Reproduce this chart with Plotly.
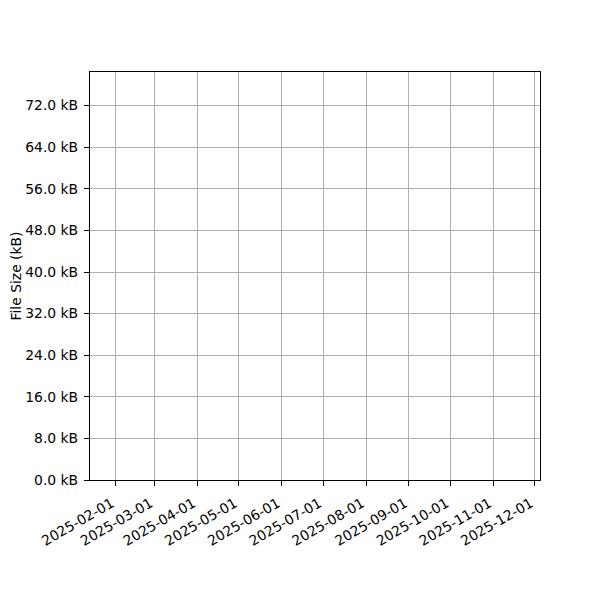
import plotly.graph_objects as go

# no file-size records in this chart: the series is empty
dates = []
sizes_kb = []

# axis ticks
x_ticks = ["2025-02-01", "2025-03-01", "2025-04-01", "2025-05-01", "2025-06-01",
           "2025-07-01", "2025-08-01", "2025-09-01", "2025-10-01", "2025-11-01",
           "2025-12-01"]
y_ticks = [0, 8, 16, 24, 32, 40, 48, 56, 64, 72]
y_labels = [f"{v:.1f} kB" for v in y_ticks]

x_range = ["2025-01-13 10:00", "2025-12-04 19:00"]
y_range = [0, 78.46]

font = dict(family="DejaVu Sans", size=13.9, color="black")

fig = go.Figure()
fig.add_trace(go.Scatter(x=dates, y=sizes_kb, mode="lines",
                         line=dict(color="#1f77b4", width=2), showlegend=False))

axis_style = dict(showline=True, linecolor="black", linewidth=1.1, mirror=True,
                  showgrid=True, gridcolor="#b0b0b0", gridwidth=1.1,
                  ticks="outside", ticklen=5, tickwidth=1.1, tickcolor="black",
                  zeroline=False, tickfont=font, automargin=False)

fig.update_xaxes(type="date", range=x_range, tickmode="array",
                 tickvals=x_ticks, ticktext=x_ticks, tickangle=-30,
                 ticklabelstandoff=4, ticklabelshift=-4,
                 **axis_style)
fig.update_yaxes(range=y_range, tickmode="array", tickvals=y_ticks,
                 ticktext=y_labels, ticklabelstandoff=3,
                 title=dict(text="File Size (kB)", font=font, standoff=8),
                 **axis_style)

# page body adds ~8px offset, so margins are shifted to compensate
fig.update_layout(width=600, height=600, paper_bgcolor="white",
                  plot_bgcolor="white", font=font,
                  margin=dict(l=82, r=68, t=64, b=128))

fig.write_html("out.html")
